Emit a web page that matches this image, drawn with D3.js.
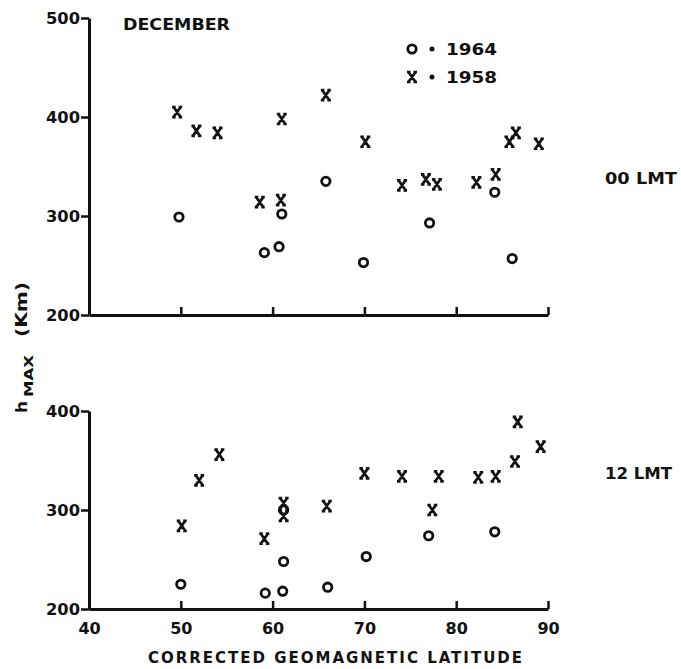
<!DOCTYPE html>
<meta charset="utf-8">
<style>
body {
	margin: 0;
	background-color: #ffffff;
}
text {
	font-family: "DejaVu Sans", sans-serif;
	font-weight: bold;
	fill: #111;
}
.axis path, .axis line {
	fill: none;
	stroke: #111;
}
.axis path { stroke-width: 3; }
.axis line { stroke-width: 2.5; }
.axis text { font-size: 16px; }
</style>
<body>
<script src="https://d3js.org/d3.v7.min.js"></script>
<script>
var width = 681;
var height = 669;

// [latitude, hmax]
var lmt00_1964 = [[49.8,299],[59.1,263],[60.7,269],[61.0,302],[65.8,335],[69.9,253],[77.1,293],[84.2,324],[86.1,257]];
var lmt00_1958 = [[49.6,405],[51.7,386],[54.0,384],[58.6,314],[60.9,316],[61.0,398],[65.8,422],[70.1,375],[74.1,331],[76.7,337],[77.9,332],[82.2,334],[84.3,342],[85.8,375],[86.5,384],[89.0,373]];
var lmt12_1964 = [[50.0,225],[59.2,216],[61.1,218],[61.2,248],[61.2,300],[66.0,222],[70.2,253],[77.0,274],[84.2,278]];
var lmt12_1958 = [[50.1,284],[52.0,330],[54.2,356],[59.1,271],[61.2,307],[61.2,294],[65.9,304],[70.0,337],[74.1,334],[77.4,300],[78.1,334],[82.4,333],[84.3,334],[86.4,349],[86.7,389],[89.2,364]];

var xTicks = [40, 50, 60, 70, 80, 90];
var yTicksTop = [200, 300, 400, 500];
var yTicksBottom = [200, 300, 400];
var legendYears = ['1964', '1958'];

var svg = d3.select('body').append('svg')
	.attr('width', width)
	.attr('height', height);

var x = d3.scaleLinear().domain([40, 90]).range([89, 548]);
var yTop = d3.scaleLinear().domain([200, 500]).range([315, 18]);
var yBot = d3.scaleLinear().domain([200, 400]).range([609, 411]);

// typed-looking x with little serifs
var xPath = 'M-3.5,-5L3.5,5M3.5,-5L-3.5,5M-5,-5H-1.5M1.5,-5H5M-5,5H-1.5M1.5,5H5';

function panel(y, yTicks, o, xs, showLabels) {
	var g = svg.append('g');

	g.append('g')
		.attr('class', 'axis')
		.attr('transform', 'translate(' + x.range()[0] + ',0)')
		.call(d3.axisLeft(y).tickValues(yTicks).tickSizeInner(8).tickSizeOuter(0).tickPadding(1))
		.call(function(a) {
			a.selectAll('text').attr('dy', '0.36em')
				.attr('textLength', 34).attr('lengthAdjust', 'spacingAndGlyphs');
		});

	var xa = g.append('g')
		.attr('class', 'axis')
		.attr('transform', 'translate(0,' + y.range()[0] + ')')
		.call(d3.axisBottom(x).tickValues(xTicks).tickSizeInner(-8).tickSizeOuter(0).tickPadding(14));
	if (!showLabels) xa.selectAll('text').remove();

	g.selectAll('.o')
		.data(o)
		.enter().append('circle')
		.attr('cx', function(d) { return x(d[0]); })
		.attr('cy', function(d) { return y(d[1]); })
		.attr('r', 4.2)
		.style('fill', 'none')
		.style('stroke', '#111')
		.style('stroke-width', 2.8);

	g.selectAll('.x')
		.data(xs)
		.enter().append('path')
		.attr('d', xPath)
		.attr('transform', function(d) { return 'translate(' + x(d[0]) + ',' + y(d[1]) + ')'; })
		.style('fill', 'none')
		.style('stroke', '#111')
		.style('stroke-width', 2.7);
}

panel(yTop, yTicksTop, lmt00_1964, lmt00_1958, false);
panel(yBot, yTicksBottom, lmt12_1964, lmt12_1958, true);

// titles
svg.append('text')
	.attr('x', 123).attr('y', 30)
	.attr('textLength', 107).attr('lengthAdjust', 'spacingAndGlyphs')
	.style('font-size', '15px')
	.text('DECEMBER');

svg.append('text')
	.attr('x', 605).attr('y', 184)
	.attr('textLength', 72).attr('lengthAdjust', 'spacingAndGlyphs')
	.style('font-size', '15px')
	.text('00 LMT');

svg.append('text')
	.attr('x', 605).attr('y', 479)
	.attr('textLength', 67).attr('lengthAdjust', 'spacingAndGlyphs')
	.style('font-size', '15px')
	.text('12 LMT');

svg.append('text')
	.attr('x', 148).attr('y', 663)
	.attr('textLength', 374).attr('lengthAdjust', 'spacing')
	.style('font-size', '15px')
	.text('CORRECTED GEOMAGNETIC LATITUDE');

// y title, rotated, pieces placed one by one
function vtext(sx, sy, len, size, s) {
	svg.append('text')
		.attr('transform', 'translate(' + sx + ',' + sy + ') rotate(-90)')
		.attr('textLength', len).attr('lengthAdjust', 'spacingAndGlyphs')
		.style('font-size', size + 'px')
		.text(s);
}
vtext(27, 413, 12, 15, 'h');
vtext(33, 397, 42, 12, 'MAX');
vtext(27, 337, 55, 15, '(Km)');

// legend
var leg = svg.append('g');
leg.append('circle')
	.attr('cx', 412).attr('cy', 49).attr('r', 4.2)
	.style('fill', 'none').style('stroke', '#111').style('stroke-width', 2.8);
leg.append('path')
	.attr('d', xPath)
	.attr('transform', 'translate(412,77)')
	.style('fill', 'none').style('stroke', '#111').style('stroke-width', 2.7);
leg.selectAll('.dot')
	.data(legendYears)
	.enter().append('circle')
	.attr('cx', 432).attr('cy', function(d, i) { return 49 + i * 28; })
	.attr('r', 2.5).style('fill', '#111');
leg.selectAll('.yr')
	.data(legendYears)
	.enter().append('text')
	.attr('x', 446).attr('y', function(d, i) { return 55 + i * 28; })
	.attr('textLength', 51).attr('lengthAdjust', 'spacingAndGlyphs')
	.style('font-size', '15px')
	.text(function(d) { return d; });
</script>
</body>
